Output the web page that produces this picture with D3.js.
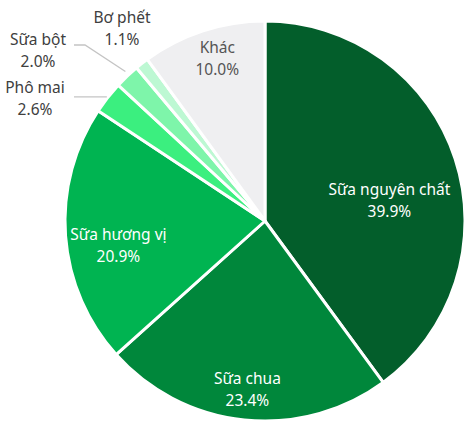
<!DOCTYPE html>
<html>
<head>
<meta charset="utf-8">
<script src="https://cdn.jsdelivr.net/npm/d3@7"></script>
<style>
  body { margin: 0; background: #fff; }
  svg { display: block; font-family: "Noto Sans", "Open Sans", sans-serif; }
</style>
</head>
<body>
<svg id="chart"></svg>
<script>
// data
const categories = ["Sữa nguyên chất", "Sữa chua", "Sữa hương vị", "Phô mai", "Sữa bột", "Bơ phết", "Khác"];
const shares = [39.9, 23.4, 20.9, 2.6, 2.0, 1.1, 10.0];
const colors = ["#035e2b", "#00873b", "#00b451", "#3bef7f", "#7ef5aa", "#bdf8d3", "#efeff1"];

const width = 465, height = 421;
const cx = 265, cy = 221, radius = 200;

const svg = d3.select("#chart")
    .attr("width", width)
    .attr("height", height);

const g = svg.append("g").attr("transform", `translate(${cx},${cy})`);

const pie = d3.pie().sort(null).value(d => d.value);
const arc = d3.arc().innerRadius(0).outerRadius(radius);

const data = categories.map((c, i) => ({ name: c, value: shares[i], color: colors[i] }));
const arcs = pie(data);

g.selectAll("path.slice")
    .data(arcs)
    .enter().append("path")
    .attr("class", "slice")
    .attr("d", arc)
    .attr("fill", d => d.data.color)
    .attr("stroke", "#fff")
    .attr("stroke-width", 3)
    .attr("stroke-linejoin", "round");

// inside labels: radius factor on the mid angle plus a small nudge
const inside = {
    "Sữa nguyên chất": { r: 0.57, dx: 16, dy: 15, color: "#fff" },
    "Sữa chua": { r: 0.85, dx: 0, dy: 0, color: "#fff" },
    "Sữa hương vị": { r: 0.74, dx: 1, dy: 14, color: "#fff" },
    "Khác": { r: 0.82, dx: 3, dy: -6, color: "#555" }
};
// outside labels: centre of first text line, relative to pie centre
const outside = {
    "Phô mai": { tx: -230, ty: -133, leader: "h" },
    "Sữa bột": { tx: -227, ty: -181, leader: "elbow" },
    "Bơ phết": { tx: -143, ty: -203, leader: null }
};

const fmt = d3.format(".1f");

function addLabel(x, y, d, color) {
    const t = g.append("text")
        .attr("text-anchor", "middle")
        .attr("font-size", 15.5)
        .attr("fill", color);
    t.append("tspan").attr("x", x).attr("y", y + 5).text(d.data.name);
    t.append("tspan").attr("x", x).attr("y", y + 27).text(fmt(d.data.value) + "%");
}

arcs.forEach(d => {
    const name = d.data.name;
    const mid = (d.startAngle + d.endAngle) / 2;
    if (inside[name]) {
        const s = inside[name];
        const r = s.r * radius;
        addLabel(Math.sin(mid) * r + s.dx, -Math.cos(mid) * r - 11 + s.dy, d, s.color);
    } else {
        const o = outside[name];
        const px = Math.sin(mid) * (radius + 1), py = -Math.cos(mid) * (radius + 1);
        if (o.leader === "h") {
            g.append("polyline")
                .attr("points", [[px, py], [o.tx + 39, py]].map(p => p.join(",")).join(" "))
                .attr("fill", "none").attr("stroke", "#c4c4c4").attr("stroke-width", 1.3);
        } else if (o.leader === "elbow") {
            const ly = o.ty + 5;
            g.append("polyline")
                .attr("points", [[px - 1, py - 4], [o.tx + 47, ly], [o.tx + 36, ly]].map(p => p.join(",")).join(" "))
                .attr("fill", "none").attr("stroke", "#c4c4c4").attr("stroke-width", 1.3);
        }
        addLabel(o.tx, o.ty, d, "#404040");
    }
});
</script>
</body>
</html>
